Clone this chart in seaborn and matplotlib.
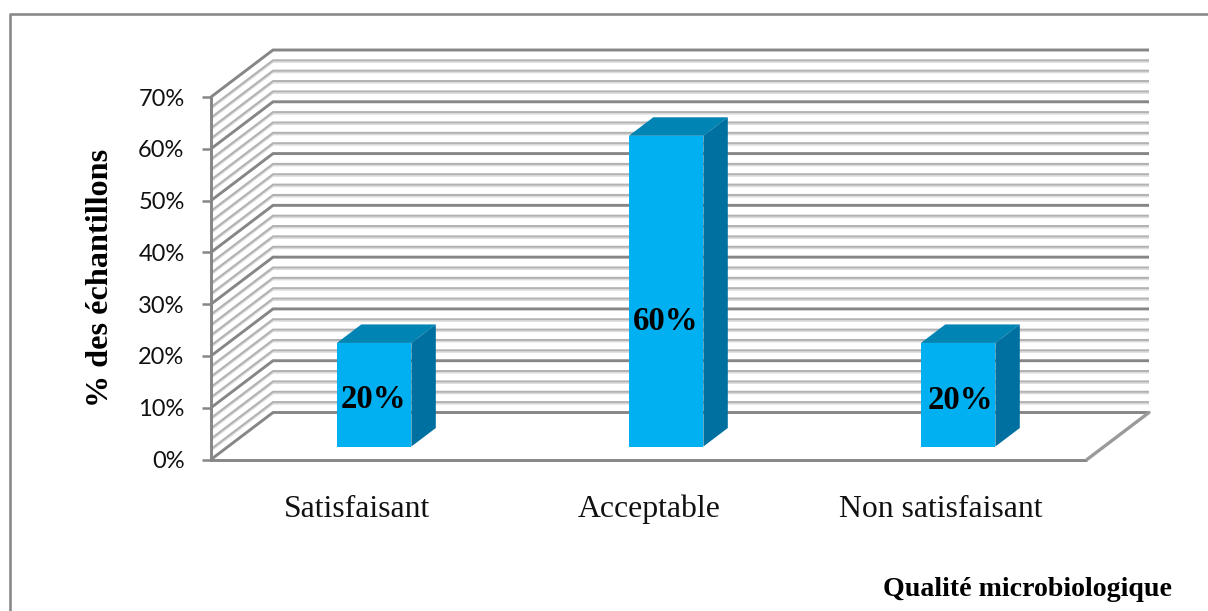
import matplotlib
matplotlib.use("Agg")
import matplotlib.pyplot as plt
from matplotlib.patches import Polygon
from matplotlib.lines import Line2D
import pandas as pd
import seaborn as sns

categories = ["Satisfaisant", "Acceptable", "Non satisfaisant"]
values = [20, 60, 20]
bar_labels = ["20%", "60%", "20%"]
y_ticks = [0, 10, 20, 30, 40, 50, 60, 70]
y_minor = [v for v in range(0, 71, 2) if v % 10]
x_title = "Qualité microbiologique"
y_title = "% des échantillons"

W, H = 1208, 611
sns.set_theme(style="white")
plt.rcParams["font.family"] = ["Liberation Serif", "DejaVu Serif"]
fig = plt.figure(figsize=(W / 100, H / 100), dpi=100)
L, R, T, B = 211.0, 1087.0, 97.0, 459.5
ax = fig.add_axes([L / W, 1 - B / H, (R - L) / W, (B - T) / H])
ax.patch.set_alpha(0)

MAJOR, MINOR, SHADE = "#868686", "#b2b2b2", "#dcdcdc"
FRONT, TOP, SIDE = "#00b0f0", "#0084b4", "#0070a0"
px_x = (R - L) / 3.0      # pixels per category
px_y = (B - T) / 70.0     # pixels per percent
DX, DY = 62 / px_x, 47 / px_y   # whole floor depth in data units

df = pd.DataFrame({"cat": categories, "val": values})
sns.barplot(data=df, x="cat", y="val", color=FRONT, saturation=1, width=74.5 / px_x,
            ax=ax, zorder=5, linewidth=0)
ax.set_xlim(-0.5, 2.5)
ax.set_ylim(0, 70)
ax.set_xlabel("")
ax.set_ylabel("")


def P(x, y, d):
    return (x + DX * d, y + DY * d)


def wall_line(v, color, lw, z, dy_px=0.0):
    s = dy_px / px_y
    ax.plot(*zip(P(-0.5, v + s, 0), P(-0.5, v + s, 1), P(2.5, v + s, 1)),
            color=color, lw=lw, zorder=z, clip_on=False, solid_joinstyle="miter", solid_capstyle="butt")


for v in y_minor:
    wall_line(v, SHADE, 1.0, 1, -1.8)
    wall_line(v, MINOR, 1.5, 2)
for v in y_ticks:
    wall_line(v, MAJOR, 2.1, 3)

# floor edges
ax.plot(*zip(P(-0.5, 0, 0), P(2.5, 0, 0)), color=MAJOR, lw=2.1, zorder=3, clip_on=False,
        solid_capstyle="butt")
ax.plot(*zip(P(2.5, 0, 0), P(2.5, 0, 1)), color="#9a9a9a", lw=2.4, zorder=3, clip_on=False)

# 3-D faces of the bars, built from the bar patches
d0, d1 = 13 / 47, 31.5 / 47
for bar in list(ax.patches):
    x0, w, h = bar.get_x(), bar.get_width(), bar.get_height()
    bar.set_x(x0 + DX * d0)
    bar.set_y(DY * d0)
    bar.set_clip_on(False)
    x1 = x0 + w
    ax.add_patch(Polygon([P(x0, h, d0), P(x1, h, d0), P(x1, h, d1), P(x0, h, d1)],
                         closed=True, fc=TOP, ec="none", zorder=4, clip_on=False))
    ax.add_patch(Polygon([P(x1, 0, d0), P(x1, 0, d1), P(x1, h, d1), P(x1, h, d0)],
                         closed=True, fc=SIDE, ec="none", zorder=4, clip_on=False))

# y axis
for s in ["top", "right", "bottom"]:
    ax.spines[s].set_visible(False)
ax.spines["left"].set_color(MAJOR)
ax.spines["left"].set_linewidth(2.1)
ax.spines["left"].set_zorder(6)
ax.set_yticks(y_ticks)
ax.set_yticklabels([f"{v}%" for v in y_ticks], family="Lato", fontsize=17, color="#111111")
ax.tick_params(axis="y", length=6.5, width=1.8, color=MAJOR, pad=12.5, left=True)
ax.set_xticks(range(3))
ax.set_xticklabels(categories, fontsize=22.9, color="#111111", va="baseline")
ax.tick_params(axis="x", length=0, pad=41.4)

# value labels
label_y = [11.6, 26.6, 11.4]
label_x = [0.057, 0.057, 0.065]
for i, txt in enumerate(bar_labels):
    ax.text(i + label_x[i], label_y[i], txt, ha="center", va="center", fontsize=23.6,
            fontweight="bold", color="black", zorder=7, clip_on=False)

fig.text(100 / W, 1 - 278 / H, y_title, rotation=90, ha="center", va="center",
         fontsize=23.2, fontweight="bold", color="black")
fig.text(1172 / W, 1 - 590 / H, x_title, ha="right", va="center",
         fontsize=20.1, fontweight="bold", color="black")

# chart frame: left and top edges only reach the picture
fig.add_artist(Line2D([10 / W, 10 / W, 1], [0, 1 - 13.5 / H, 1 - 13.5 / H],
                      transform=fig.transFigure, color="#8a8a8a", lw=1.9))

fig.savefig("out.png", dpi=100, facecolor="white")
